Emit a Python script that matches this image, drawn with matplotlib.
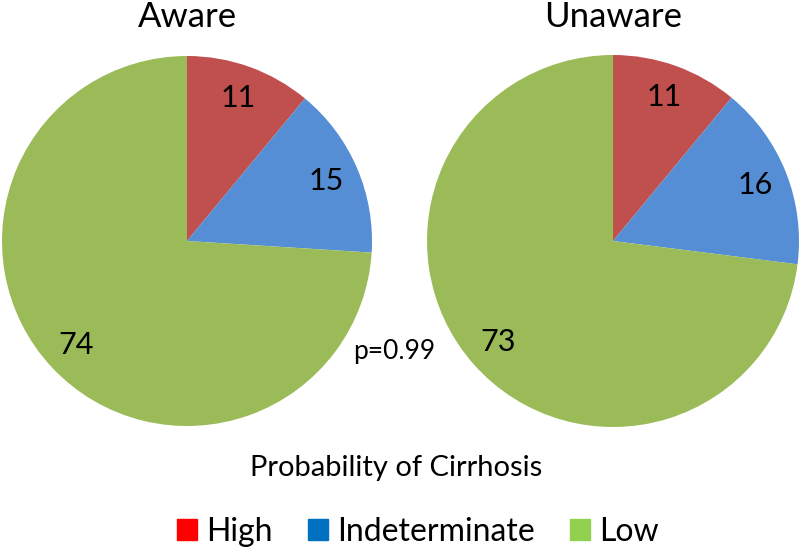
import matplotlib.pyplot as plt
from matplotlib.patches import Patch

# data
groups = ["Aware", "Unaware"]
categories = ["High", "Indeterminate", "Low"]
aware_vals = [11, 15, 74]
unaware_vals = [11, 16, 73]
slice_colors = ["#C0504D", "#558ED5", "#9BBB59"]
legend_colors = ["#FF0000", "#0070C0", "#92D050"]

plt.rcParams['font.family'] = ['Lato', 'DejaVu Sans']

W, H = 800, 549
fig = plt.figure(figsize=(8, 5.49), dpi=100)


def pie_axes(cx, cy, r):
    return fig.add_axes([(cx - r) / W, (H - cy - r) / H, 2 * r / W, 2 * r / H])


for (cx, cy, r), title, vals in zip([(187, 241, 185), (613, 241, 186)], groups,
                                    [aware_vals, unaware_vals]):
    ax = pie_axes(cx, cy, r)
    ax.pie(vals, colors=slice_colors, startangle=90, counterclock=False,
           labels=[str(v) for v in vals], labeldistance=0.82,
           textprops={'fontsize': 22, 'ha': 'center', 'va': 'center'},
           wedgeprops={'linewidth': 0})
    ax.set_xlim(-1, 1)
    ax.set_ylim(-1, 1)
    ax.set_aspect('equal')
    fig.text(cx / W, 1 - 17 / H, title, fontsize=25, ha='center', va='center')

fig.text(394 / W, 1 - 352 / H, "p=0.99", fontsize=19, ha='center', va='center')
fig.text(396 / W, 1 - 468 / H, "Probability of Cirrhosis", fontsize=21,
         ha='center', va='center')

handles = [Patch(color=c, label=l) for c, l in zip(legend_colors, categories)]
fig.legend(handles=handles, loc='center', bbox_to_anchor=(418 / W, 1 - 532 / H),
           ncol=3, frameon=False, fontsize=23, handlelength=0.62, handleheight=0.62,
           handletextpad=0.3, columnspacing=1.1)

fig.savefig("out.png", dpi=100)
